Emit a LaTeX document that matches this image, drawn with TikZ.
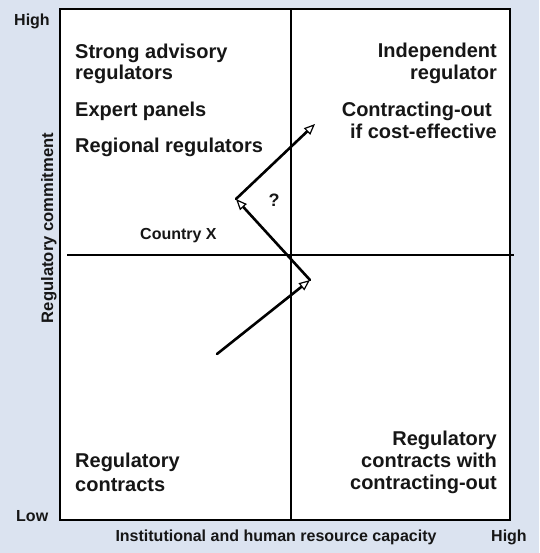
\documentclass[tikz,border=0pt]{standalone}
\usepackage{fontspec}
\setmainfont{Liberation Sans}
\usetikzlibrary{arrows.meta}
\definecolor{panelbg}{RGB}{219,227,240}
\definecolor{ink}{RGB}{22,22,22}
\begin{document}
\begin{tikzpicture}[x=1pt,y=-1pt,
  big/.style={font=\fontsize{20}{22}\selectfont\bfseries, text=ink, inner sep=0pt},
  small/.style={font=\fontsize{16}{18}\selectfont\bfseries, text=ink, inner sep=0pt},
  axisline/.style={line width=2.6pt, black},
  move/.style={line width=2.6pt, black, line cap=round,
    -{Triangle[open, length=11pt, width=9pt, line width=1.2pt, fill=white]}}]
  % canvas and frame
  \fill[panelbg] (0,0) rectangle (539,553);
  \useasboundingbox (0,0) rectangle (539,553);
  \draw[fill=white, line width=1.4pt] (60,9) rectangle (510,520);
  % quadrant axes
  \coordinate (vt) at (291,9);
  \coordinate (vb) at (291,520);
  \coordinate (hl) at (67,255);
  \coordinate (hr) at (514,255);
  \draw[axisline] (vt) -- (vb);
  \draw[axisline] (hl) -- (hr);
  % axis end labels
  \node[small, anchor=base west] (yhigh) at (14,26) {High};
  \node[small, anchor=base west] (ylow) at (16,521) {Low};
  \node[small, anchor=base west] (xhigh) at (491,541) {High};
  \node[small, anchor=base] (xlabel) at (276,541) {Institutional and human resource capacity};
  \node[small, font=\fontsize{16.6}{18}\selectfont\bfseries, anchor=base, rotate=90] (ylabel) at (53,228) {Regulatory commitment};
  % upper-left quadrant
  \node[big, anchor=base west] (ul1) at (75,59) {Strong advisory};
  \node[big, anchor=base west] (ul2) at (75,80) {regulators};
  \node[big, anchor=base west] (ul3) at (75,117) {Expert panels};
  \node[big, anchor=base west] (ul4) at (75,153) {Regional regulators};
  % upper-right quadrant
  \node[big, anchor=base east] (ur1) at (497,58) {Independent};
  \node[big, anchor=base east] (ur2) at (497,80) {regulator};
  \node[big, anchor=base east] (ur3) at (492,117) {Contracting-out};
  \node[big, anchor=base east] (ur4) at (497,139) {if cost-effective};
  % lower-left quadrant
  \node[big, anchor=base west] (ll1) at (75,467) {Regulatory};
  \node[big, anchor=base west] (ll2) at (75,491) {contracts};
  % lower-right quadrant
  \node[big, anchor=base east] (lr1) at (497,445) {Regulatory};
  \node[big, anchor=base east] (lr2) at (497,467) {contracts with};
  \node[big, anchor=base east] (lr3) at (497,489) {contracting-out};
  % country trajectory
  \node[small, anchor=base west] (cx) at (140,239) {Country X};
  \node[font=\fontsize{18}{20}\selectfont\bfseries, text=ink, inner sep=0pt, anchor=base] (q) at (274,206) {?};
  \coordinate (p0) at (217,354);
  \coordinate (p1) at (310,280);
  \coordinate (p2) at (236,199);
  \coordinate (p3) at (315,124);
  \draw[move] (p0) -- (p1);
  \draw[move] (p1) -- (p2);
  \draw[move] (p2) -- (p3);
\end{tikzpicture}
\end{document}
